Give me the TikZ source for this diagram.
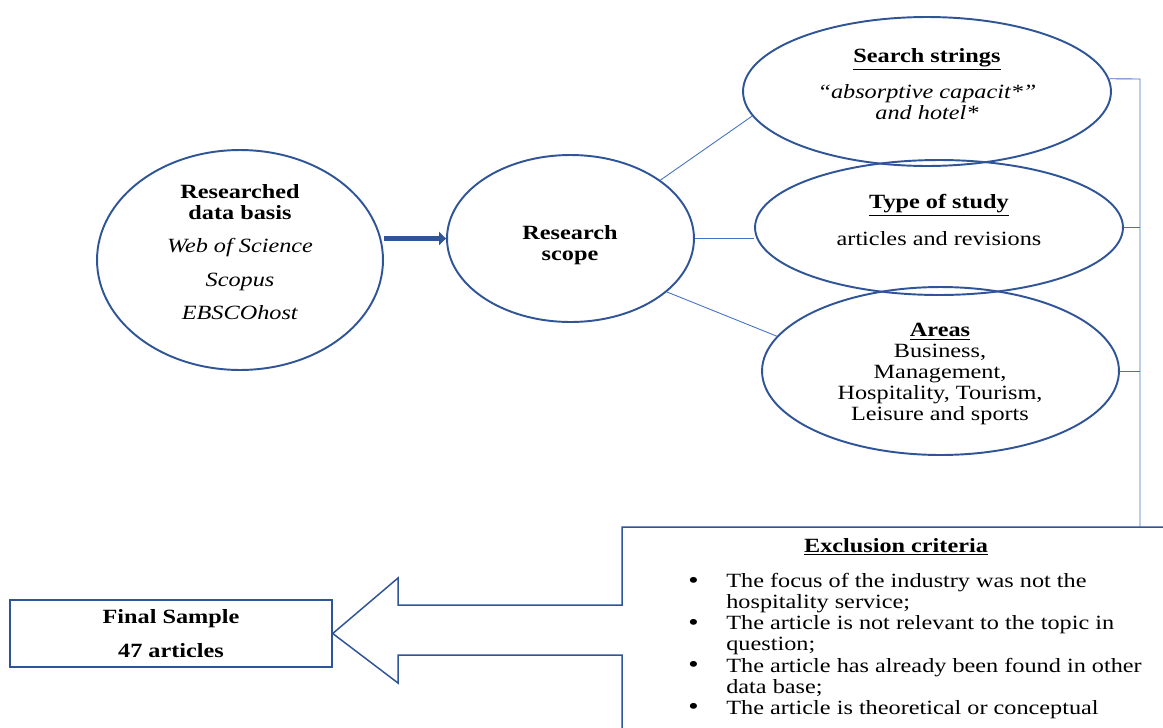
\documentclass[tikz,border=0pt]{standalone}
\usepackage{fontspec}
\setmainfont{Liberation Serif}[FakeStretch=1.2]
\usetikzlibrary{arrows.meta,shapes.geometric}
\definecolor{darkblue}{HTML}{2F5597}
\definecolor{lineblue}{HTML}{4472C4}
\newcommand\itm{\makebox[0.8cm][l]{\hspace*{0.04cm}\raisebox{-0.3pt}{\fontsize{14}{12}\selectfont\textbullet}}}
\newcommand\cnt{\hspace*{0.8cm}}

\begin{document}
\begin{tikzpicture}[x=0.02cm,y=-0.02cm,
	oval/.style={ellipse,draw=darkblue,line width=1.1pt,inner sep=0pt},
	txt/.style={font=\fontsize{11.5}{12}\selectfont,align=center,inner sep=0pt},
	link/.style={draw=lineblue,line width=0.5pt},
	frame/.style={draw=darkblue,line width=0.85pt}]
	\useasboundingbox (0,0) rectangle (1163,727);
	\node[oval,minimum width=5.72cm,minimum height=4.4cm] (data) at (240,260) {};
	\node[oval,minimum width=4.94cm,minimum height=3.34cm] (scope) at (570.5,238.5) {};
	\node[oval,minimum width=7.36cm,minimum height=2.98cm] (search) at (927,91.5) {};
	\node[oval,minimum width=7.36cm,minimum height=2.7cm] (type) at (939,227.5) {};
	\node[oval,minimum width=7.14cm,minimum height=3.36cm] (areas) at (940.5,371) {};
	\node[txt] (datatxt) at (240,252) {\textbf{Researched}\\\textbf{data basis}\\[7pt]\textit{Web of Science}\\[7pt]\textit{Scopus}\\[7pt]\textit{EBSCOhost}};
	\node[txt] (scopetxt) at (570,245) {\textbf{Research}\\\textbf{scope}};
	\node[txt] (searchtxt) at (927,84) {\underline{\textbf{Search strings}}\\[7pt]\textit{“absorptive capacit*”}\\\textit{and hotel*}};
	\node[txt] (typetxt) at (939,220) {\underline{\textbf{Type of study}}\\[8pt]articles and revisions};
	\node[txt] (areastxt) at (940,374) {\underline{\textbf{Areas}}\\Business,\\Management,\\Hospitality, Tourism,\\Leisure and sports};
	\node[txt,frame,minimum width=6.44cm,minimum height=1.34cm] (final) at (171,633.5) {\textbf{Final Sample}\\[7pt]\textbf{47 articles}};
	\node[txt] (excltitle) at (896,547) {\underline{\textbf{Exclusion criteria}}};
	\node[txt,align=left,anchor=west] (rules) at (686,646) {\itm The focus of the industry was not the\\\cnt hospitality service;\\\itm The article is not relevant to the topic in\\\cnt question;\\\itm The article has already been found in other\\\cnt data base;\\\itm The article is theoretical or conceptual};
	\coordinate (brtop) at (1140,79);
	\coordinate (brbot) at (1140,527);
	\draw[darkblue,line width=2.8pt,-{Triangle[length=4pt,width=7.5pt]}] (scope.west -| data.east) -- (scope.west);
	\draw[link] (scope.33) -- (search.188);
	\draw[link] (scope.east) -- (scope.east -| type.west);
	\draw[link] (scope.-29) -- (areas.168);
	\draw[link] (search.4) -- (brtop) -- (brbot);
	\draw[link] (type.east) -- (type.east -| brtop);
	\draw[link] (areas.east) -- (areas.east -| brtop);
	\draw[frame] (1170,527) -- (622,527) -- (622,605) -- (398,605) -- (398,578) -- (final.east) -- (398,683) -- (398,655) -- (622,655) -- (622,735);
\end{tikzpicture}
\end{document}
